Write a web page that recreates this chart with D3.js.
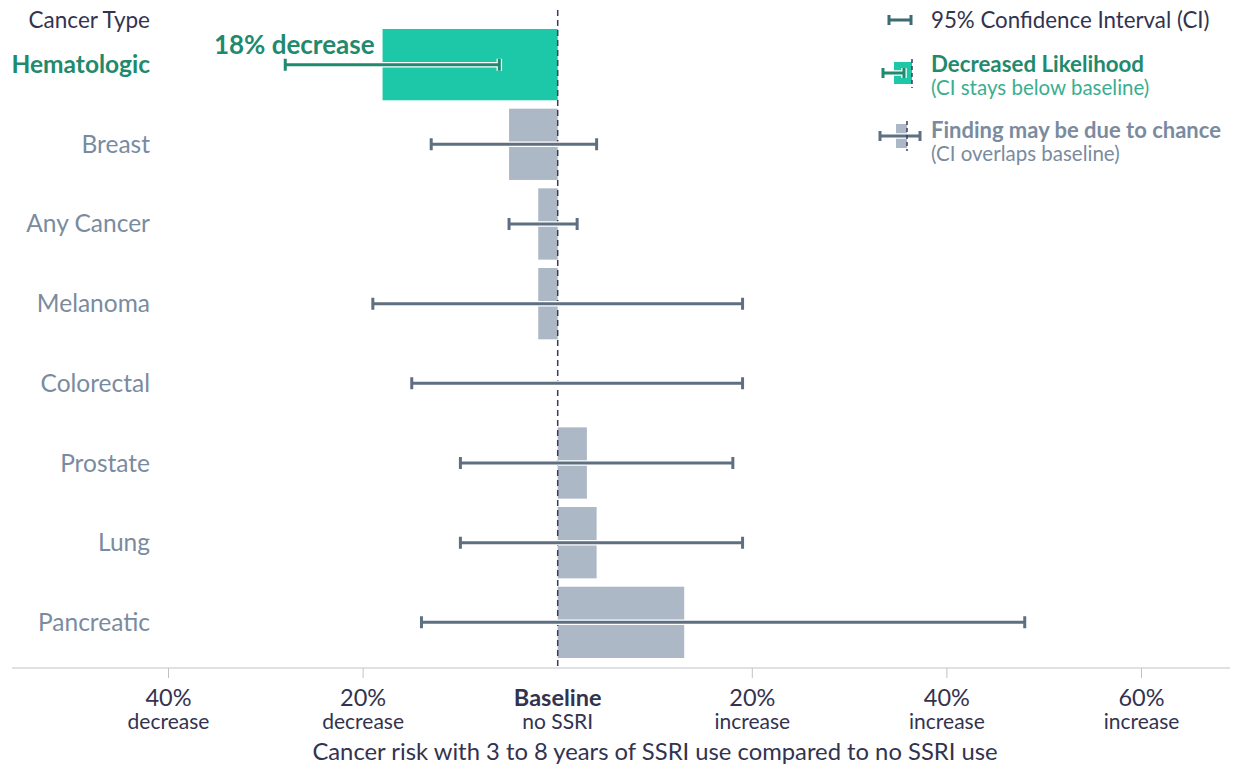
<!doctype html>
<html>
<head>
<meta charset="utf-8">
<script src="https://cdn.jsdelivr.net/npm/d3@7/dist/d3.min.js"></script>
<style>
  body { margin:0; background:#fff; }
  text { font-family: Lato, "Open Sans", sans-serif; }
</style>
</head>
<body>
<script>
// data (percent change vs no SSRI)
var categories = ['Hematologic','Breast','Any Cancer','Melanoma','Colorectal','Prostate','Lung','Pancreatic'];
var effect  = [-18, -5, -2, -2, 0, 3, 4, 13];
var ciLow   = [-28, -13, -5, -19, -15, -10, -10, -14];
var ciHigh  = [-6, 4, 2, 19, 19, 18, 19, 48];
var tickVals = [-40, -20, 0, 20, 40, 60];
var tickTop  = ['40%', '20%', 'Baseline', '20%', '40%', '60%'];
var tickSub  = ['decrease', 'decrease', 'no SSRI', 'increase', 'increase', 'increase'];

var green = '#1cc8a8', greenDark = '#1f8a6d', greenLight = '#3aae90';
var grayBar = '#adb8c6', grayLine = '#5f6f82', grayText = '#7a8ba0', ink = '#33334f';

var W = 1235, H = 767;
var svg = d3.select('body').append('svg').attr('width', W).attr('height', H);

var x = d3.scaleLinear().domain([-40, 60]).range([168.5, 1141.5]);
var y = d3.scaleBand().domain(categories).range([25, 662]).paddingInner(0.105).paddingOuter(0.05);

var rows = categories.map(function(c, i){
  return {cat:c, v:effect[i], lo:ciLow[i], hi:ciHigh[i], sig: ciHigh[i] < 0};
});

// bars
svg.selectAll('rect.bar').data(rows).enter().append('rect')
  .attr('class','bar')
  .attr('x', function(d){ return x(Math.min(0, d.v)); })
  .attr('width', function(d){ return Math.abs(x(d.v) - x(0)); })
  .attr('y', function(d){ return y(d.cat); })
  .attr('height', y.bandwidth())
  .attr('fill', function(d){ return d.sig ? green : grayBar; });

// baseline
svg.append('line')
  .attr('x1', x(0)).attr('x2', x(0)).attr('y1', 10).attr('y2', 668)
  .attr('stroke', '#3b3b5c').attr('stroke-width', 1.5).attr('stroke-dasharray', '6,4');

// confidence intervals with white halo
function ci(g, x1, x2, cy, col, cap){
  var p = 'M' + x1 + ',' + cy + 'H' + x2 +
          'M' + x1 + ',' + (cy - cap) + 'V' + (cy + cap) +
          'M' + x2 + ',' + (cy - cap) + 'V' + (cy + cap);
  g.append('path').attr('d', p).attr('stroke', '#fff').attr('stroke-width', 5.5).attr('fill','none');
  g.append('path').attr('d', p).attr('stroke', col).attr('stroke-width', 3).attr('fill','none');
}
var ciG = svg.append('g');
rows.forEach(function(d){
  ci(ciG, x(d.lo), x(d.hi), y(d.cat) + y.bandwidth()/2, d.sig ? greenDark : grayLine, 6);
});

// category labels
svg.append('text').attr('x', 150).attr('y', 28).attr('text-anchor','end')
  .attr('font-size', 22.5).attr('fill', ink).text('Cancer Type');
svg.selectAll('text.cat').data(rows).enter().append('text')
  .attr('class','cat')
  .attr('x', 150)
  .attr('y', function(d){ return y(d.cat) + y.bandwidth()/2 + 8.5; })
  .attr('text-anchor','end')
  .attr('font-size', 24.5)
  .attr('font-weight', function(d){ return d.sig ? 700 : 400; })
  .attr('fill', function(d){ return d.sig ? greenDark : grayText; })
  .text(function(d){ return d.cat; });

// annotation
svg.append('text').attr('x', x(effect[0]) - 8).attr('y', 54).attr('text-anchor','end')
  .attr('font-size', 26).attr('font-weight', 700).attr('fill', greenDark)
  .text(Math.abs(effect[0]) + '% decrease');

// x axis
var axis = svg.append('g').attr('transform', 'translate(0,668)');
axis.append('line').attr('x1', 12).attr('x2', 1230).attr('stroke', '#bfc3c8').attr('stroke-width', 1.2);
var tk = axis.selectAll('g.tick').data(tickVals).enter().append('g')
  .attr('class','tick').attr('transform', function(d){ return 'translate(' + x(d) + ',0)'; });
tk.filter(function(d){ return d !== 0; }).append('line').attr('y2', 10).attr('stroke', '#bfc3c8');
tk.append('text').attr('y', 37.5).attr('text-anchor','middle').attr('font-size', 23.5)
  .attr('font-weight', function(d){ return d === 0 ? 700 : 400; })
  .attr('fill', ink).text(function(d, i){ return tickTop[i]; });
tk.append('text').attr('y', 61).attr('text-anchor','middle').attr('font-size', 21)
  .attr('fill', ink).text(function(d, i){ return tickSub[i]; });
svg.append('text').attr('x', 655).attr('y', 760).attr('text-anchor','middle')
  .attr('font-size', 23.8).attr('fill', ink)
  .text('Cancer risk with 3 to 8 years of SSRI use compared to no SSRI use');

// legend
var lg = svg.append('g');
ci(lg, 889, 911, 20, '#3d6b72', 5);
lg.append('text').attr('x', 931).attr('y', 28).attr('font-size', 22.3).attr('fill', ink)
  .text('95% Confidence Interval (CI)');

lg.append('rect').attr('x', 894).attr('y', 62).attr('width', 18).attr('height', 22).attr('fill', green);
ci(lg, 883, 904, 73, greenDark, 5);
lg.append('line').attr('x1', 912).attr('x2', 912).attr('y1', 59).attr('y2', 88)
  .attr('stroke', '#3b3b5c').attr('stroke-width', 1.5).attr('stroke-dasharray', '4,3');
lg.append('text').attr('x', 931).attr('y', 72).attr('font-size', 22.3).attr('font-weight', 700)
  .attr('fill', greenDark).text('Decreased Likelihood');
lg.append('text').attr('x', 931).attr('y', 95).attr('font-size', 20.5).attr('fill', greenLight)
  .text('(CI stays below baseline)');

lg.append('rect').attr('x', 896).attr('y', 124).attr('width', 11).attr('height', 24).attr('fill', grayBar);
ci(lg, 880, 920, 136, grayLine, 5);
lg.append('line').attr('x1', 907).attr('x2', 907).attr('y1', 121).attr('y2', 151)
  .attr('stroke', '#3b3b5c').attr('stroke-width', 1.5).attr('stroke-dasharray', '4,3');
lg.append('text').attr('x', 931).attr('y', 138).attr('font-size', 22).attr('font-weight', 700)
  .attr('fill', grayText).text('Finding may be due to chance');
lg.append('text').attr('x', 931).attr('y', 161).attr('font-size', 20.5).attr('fill', grayText)
  .text('(CI overlaps baseline)');
</script>
</body>
</html>
